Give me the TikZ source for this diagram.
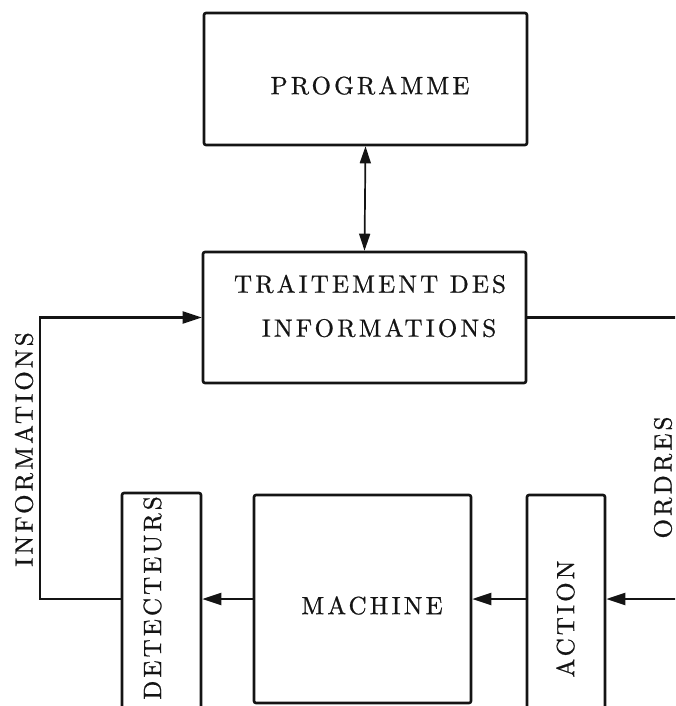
\documentclass[tikz,border=0pt]{standalone}
\usepackage{fontspec}
\usetikzlibrary{arrows.meta}
\newfontfamily\diagramfont{lmroman10-regular}[Extension=.otf, LetterSpace=12.5, FakeBold=0.8]
\colorlet{ink color}{black!92}
\tikzset{
    x={1pt},
    y={-1pt},
    block/.style 2 args={
        draw=ink color,
        line width={2.6pt},
        rounded corners={2pt},
        inner sep=0pt,
        minimum width={#1},
        minimum height={#2},
    },
    block label/.style={
        font={\diagramfont\fontsize{25}{44}\selectfont},
        text=ink color,
        inner sep=0pt,
        align=center,
    },
    side label/.style={
        block label,
        rotate=90,
    },
    link/.style={
        draw=ink color,
        line width={2.1pt},
    },
    flow/.style={
        link,
        -{Triangle[length=19pt,width=12pt]},
    },
    exchange/.style={
        link,
        line width={1.7pt},
        {Triangle[length=17pt,width=11pt]}-{Triangle[length=17pt,width=11pt]},
    },
}

\begin{document}
\begin{tikzpicture}
\useasboundingbox (0,0) rectangle (675,706);
\clip (0,0) rectangle (675,706);
% blocks
\node[block={323}{132}] (programme) at (365.5,79) {};
\node[block={323}{131}] (traitement) at (364.5,317.5) {};
\node[block={79}{267}] (detecteurs) at (161.5,626.5) {};
\node[block={217}{208}] (machine) at (362.5,599) {};
\node[block={78}{265}] (action) at (566,627.5) {};
% block texts
\node[block label] (programme text) at (370,85.5) {PROGRAMME};
\node[block label] (traitement text) at (370,306) {TRAITEMENT DES\\\hspace*{18pt}INFORMATIONS};
\node[block label] (machine text) at (372,605.5) {MACHINE};
\node[side label] (detecteurs text) at (152.5,598) {DETECTEURS};
\node[side label] (action text) at (565.5,619) {ACTION};
% signal names
\node[side label] (informations text) at (24,449.5) {INFORMATIONS};
\node[side label] (ordres text) at (663,477.5) {ORDRES};
% links
\coordinate (left turn) at (40,0);
\coordinate (right turn) at (690,0);
\draw[exchange] (programme.south) -- (traitement.north);
\draw[flow] (detecteurs.west |- machine.west) -| (left turn |- traitement.west) -- (traitement.west);
\draw[flow] (traitement.east) -| (right turn |- machine.east) -- (action.east |- machine.east);
\draw[flow] (action.west |- machine.east) -- (machine.east);
\draw[flow] (machine.west) -- (detecteurs.east |- machine.west);
\end{tikzpicture}
\end{document}
